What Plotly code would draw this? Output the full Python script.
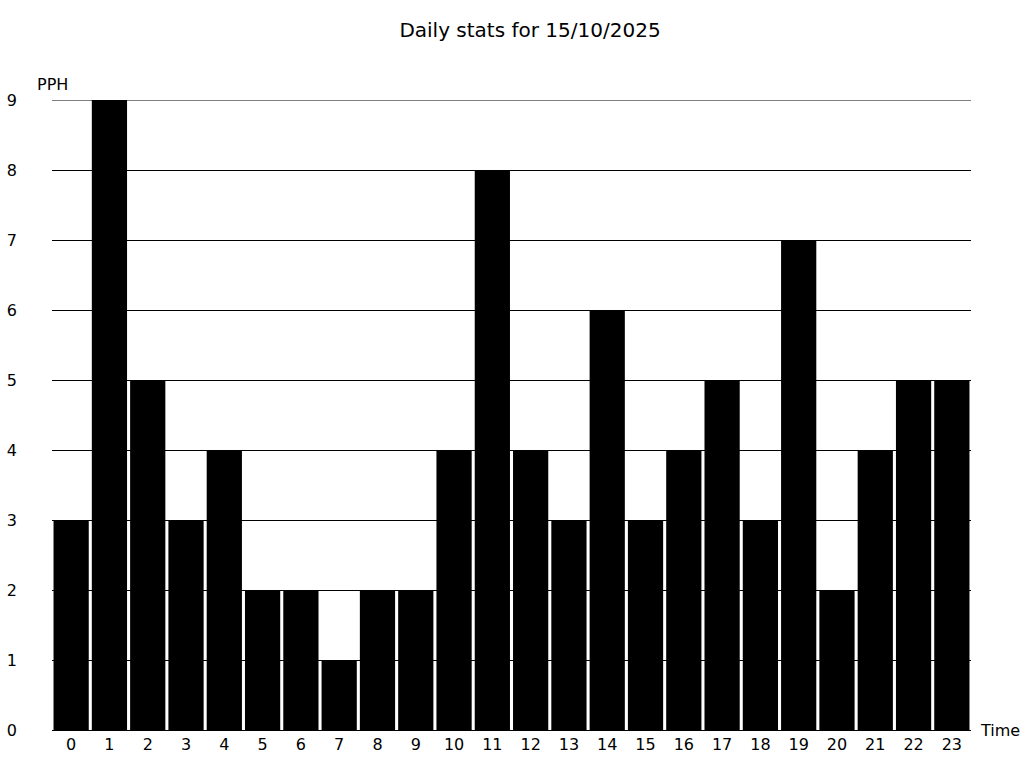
import plotly.graph_objects as go

hours = [str(h) for h in range(24)]
pph = [3, 9, 5, 3, 4, 2, 2, 1, 2, 2, 4, 8, 4, 3, 6, 3, 4, 5, 3, 7, 2, 4, 5, 5]
y_ticks = list(range(10))
y_max = 9

fig = go.Figure(go.Bar(x=hours, y=pph, marker=dict(color="black", line=dict(width=0)),
                       hoverinfo="skip"))

fig.update_layout(
    width=1024, height=768,
    margin=dict(l=52, r=53, t=100, b=38, autoexpand=False),
    paper_bgcolor="white", plot_bgcolor="white",
    font=dict(family="DejaVu Sans", size=16, color="black"),
    title=dict(text="Daily stats for 15/10/2025", xref="container", x=0.5176, xanchor="center",
               y=0.961, yanchor="middle",
               font=dict(family="DejaVu Sans", size=20, color="black")),
    bargap=0.08,
    showlegend=False,
)
fig.update_xaxes(type="category", showgrid=False, showline=True, linecolor="black", linewidth=1,
                 ticks="", tickfont=dict(size=16), zeroline=False, automargin=False)
fig.update_yaxes(range=[0, y_max], tickvals=y_ticks, showgrid=True, gridcolor="black", gridwidth=1,
                 showline=False, zeroline=False, ticks="", ticklabelstandoff=34,
                 tickfont=dict(size=16), automargin=False)
fig.add_shape(type="line", xref="paper", yref="y", x0=0, x1=1, y0=y_max, y1=y_max,
              line=dict(color="black", width=1), layer="below")
fig.add_annotation(text="PPH", xref="paper", yref="paper", x=0, y=1.0, yshift=16,
                   xanchor="center", yanchor="middle", showarrow=False, font=dict(size=16))
fig.add_annotation(text="Time", xref="paper", yref="paper", x=1.0, xshift=7, y=0,
                   xanchor="left", yanchor="middle", showarrow=False, font=dict(size=16))
fig.write_html("out.html", config={"displayModeBar": False},
               post_script="document.body.style.margin='0';document.body.style.padding='0';")
